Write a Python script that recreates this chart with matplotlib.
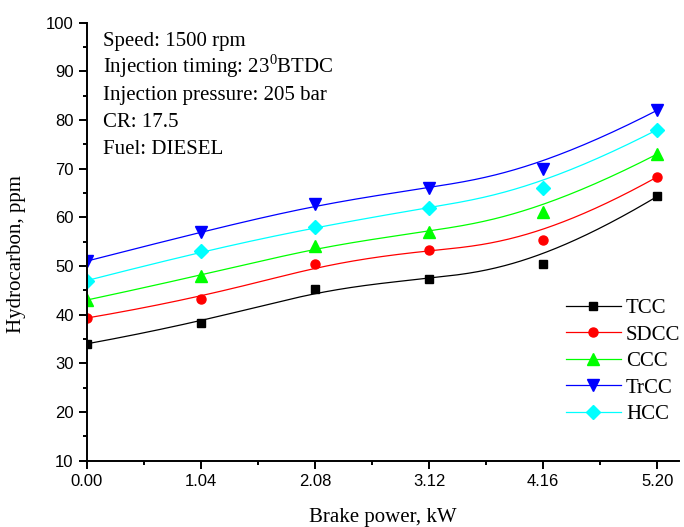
import numpy as np
import matplotlib
matplotlib.use("Agg")
import matplotlib.pyplot as plt

power = [0.00, 1.04, 2.08, 3.12, 4.16, 5.20]
tick_labels = ["0.00", "1.04", "2.08", "3.12", "4.16", "5.20"]
TCC = [34.0, 38.3, 45.3, 47.3, 50.3, 64.3]
SDCC = [39.3, 43.3, 50.3, 53.3, 55.3, 68.3]
CCC = [43.0, 48.0, 54.0, 57.0, 61.0, 73.0]
TrCC = [51.0, 57.0, 62.7, 66.0, 70.0, 82.0]
HCC = [47.0, 53.0, 58.0, 62.0, 66.0, 78.0]

series = [
    ("TCC", TCC, "#000000", "s", 5.5),
    ("SDCC", SDCC, "#ff0000", "o", 6.5),
    ("CCC", CCC, "#00ff00", "^", 9),
    ("TrCC", TrCC, "#0000ff", "v", 9),
    ("HCC", HCC, "#00ffff", "D", 7.5),
]


def bspline(px, py, deg=3, n=300):
    """Clamped uniform B-spline using the data points as control points."""
    px = np.asarray(px, float)
    py = np.asarray(py, float)
    m = len(px)
    inner = np.linspace(0, 1, m - deg + 1)
    knots = np.concatenate([[0] * deg, inner, [1] * deg])
    t = np.linspace(0, 1, n)
    t[-1] = 1 - 1e-12

    def basis(i, k, tt):
        if k == 0:
            return ((knots[i] <= tt) & (tt < knots[i + 1])).astype(float)
        out = np.zeros_like(tt)
        d1 = knots[i + k] - knots[i]
        d2 = knots[i + k + 1] - knots[i + 1]
        if d1 > 0:
            out += (tt - knots[i]) / d1 * basis(i, k - 1, tt)
        if d2 > 0:
            out += (knots[i + k + 1] - tt) / d2 * basis(i + 1, k - 1, tt)
        return out

    B = np.array([basis(i, deg, t) for i in range(m)])
    return B.T @ px, B.T @ py


fig = plt.figure(figsize=(6.84, 5.27), dpi=100)
ax = fig.add_axes([0.127, 0.126, 0.866, 0.831])

for name, vals, col, mk, ms in series:
    cx, cy = bspline(power, vals)
    ax.plot(cx, cy, color=col, lw=0.9)
    ax.plot(power, vals, linestyle="none", marker=mk, color=col, ms=ms, mec=col)
    ax.plot([], [], color=col, lw=0.9, marker=mk, ms=ms, mec=col, label=name)

ax.set_xlim(0, 5.4)
ax.set_ylim(10, 100)
ax.set_xticks(power)
ax.set_xticklabels(tick_labels)
ax.set_xticks([0.52, 1.56, 2.60, 3.64, 4.68], minor=True)
ax.set_yticks(np.arange(10, 101, 10))
ax.set_yticks(np.arange(15, 100, 10), minor=True)
for s in ["top", "right"]:
    ax.spines[s].set_visible(False)
for s in ["left", "bottom"]:
    ax.spines[s].set_linewidth(1.4)
ax.tick_params(axis="both", which="major", direction="out", length=6, width=1.4,
               labelsize=12)
ax.tick_params(axis="both", which="minor", direction="out", length=3, width=1.4)
for lab in ax.get_xticklabels() + ax.get_yticklabels():
    lab.set_fontfamily(["Liberation Sans", "DejaVu Sans"])

serif = ["Liberation Serif", "DejaVu Serif"]
ax.set_xlabel("Brake power, kW", fontsize=15, family=serif, labelpad=14)
ax.set_ylabel("Hydrocarbon, ppm", fontsize=15, family=serif, va="center")
ax.yaxis.set_label_coords(-0.118, 0.472)

plt.rcParams["mathtext.fontset"] = "custom"
plt.rcParams["mathtext.rm"] = "Liberation Serif"
lines = ["Speed: 1500 rpm",
         "Injection timing: 23$^{0}$BTDC",
         "Injection pressure: 205 bar",
         "CR: 17.5",
         "Fuel: DIESEL"]
for i, t in enumerate(lines):
    ax.text(0.143, 95.27 - i * 5.55, t, fontsize=15, family=serif,
            va="baseline", ha="left")

leg = ax.legend(loc="lower right", bbox_to_anchor=(1.023, 0.055), frameon=False,
                prop={"family": serif, "size": 15}, handlelength=2.65,
                labelspacing=0.33, handletextpad=0.25, borderaxespad=0.2)

fig.savefig("out.png", dpi=100)
